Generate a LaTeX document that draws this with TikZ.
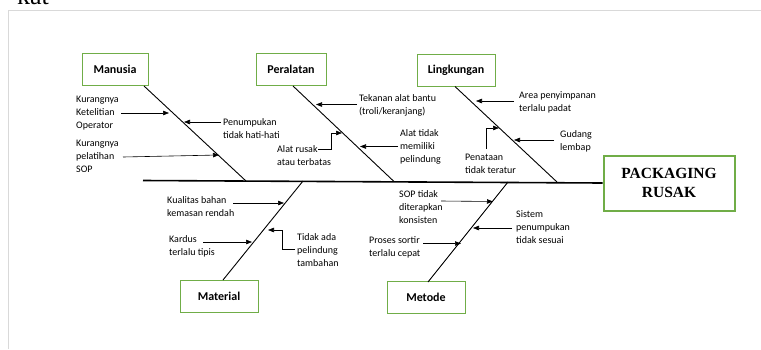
\documentclass[tikz,border=0pt]{standalone}
\usepackage{fontspec}
\setmainfont{Carlito}
\newfontfamily\headserif{Liberation Serif}
\usetikzlibrary{arrows.meta}
\definecolor{boxgreen}{HTML}{70AD47}
\definecolor{framegray}{HTML}{D9D9D9}
\tikzset{
  catbox/.style={draw=boxgreen, line width=1pt, minimum width=66pt, minimum height=32pt, font=\fontsize{12}{14}\selectfont\bfseries, inner sep=0pt},
  effectbox/.style={draw=boxgreen, line width=2pt, minimum width=131pt, minimum height=55pt, font=\headserif\fontsize{15.5}{19}\selectfont\bfseries, align=center, inner sep=0pt},
  cause/.style={font=\fontsize{10}{13}\selectfont, align=left, anchor=west, inner sep=0pt},
  bone/.style={line width=0.9pt},
  spine/.style={line width=1.6pt},
  causearrow/.style={line width=0.6pt, -{Triangle[length=6pt,width=4.5pt]}}
}
\begin{document}
\begin{tikzpicture}[x=1pt,y=-1pt]
\useasboundingbox (0,0) rectangle (761,349);
% page frame and cut heading
\draw[framegray, line width=1pt] (761,10.5) -- (8.5,10.5) -- (8.5,349);
\begin{scope}
\clip (0,0) rectangle (120,6);
\node[anchor=base west, inner sep=0pt, font=\headserif\fontsize{26}{30}\selectfont] (head) at (17,4) {kat};
\end{scope}

% boxes
\node[catbox, minimum width=66pt] (man) at (115,69.5) {Manusia};
\node[catbox, minimum width=70pt] (per) at (291,69.5) {Peralatan};
\node[catbox, minimum width=78pt] (lin) at (456,70.5) {Lingkungan};
\node[catbox, minimum width=78pt] (mat) at (219,296) {Material};
\node[catbox, minimum width=78pt] (met) at (426,297.5) {Metode};
\node[effectbox] (eff) at (669,183) {PACKAGING\\RUSAK};

% spine
\coordinate (spL) at (143,180.5);
\draw[spine] (spL) -- (eff.west);

% bone endpoints
\coordinate (manT) at (144,86);   \coordinate (manB) at (246,181);
\coordinate (perT) at (293,86);   \coordinate (perB) at (394,181.5);
\coordinate (linT) at (455,86.5); \coordinate (linB) at (557,182);
\coordinate (matT) at (303,181);  \coordinate (matB) at (223,280);
\coordinate (metT) at (508,182);  \coordinate (metB) at (428,282);
\draw[bone] (manT) -- (manB);
\draw[bone] (perT) -- (perB);
\draw[bone] (linT) -- (linB);
\draw[bone] (matT) -- (matB);
\draw[bone] (metT) -- (metB);

% Manusia causes
\node[cause] (c1) at (76,113) {Kurangnya\\Ketelitian\\Operator};
\node[cause] (c2) at (223,128.5) {Penumpukan\\tidak hati-hati};
\node[cause] (c3) at (76,156.5) {Kurangnya\\pelatihan\\SOP};
\coordinate (a1s) at (121,113); \coordinate (a1e) at (169,113);
\coordinate (a2s) at (221,122); \coordinate (a2e) at (184,122);
\coordinate (a3s) at (123,157); \coordinate (a3e) at (219,155);
\draw[causearrow] (a1s) -- (a1e);
\draw[causearrow] (a2s) -- (a2e);
\draw[causearrow] (a3s) -- (a3e);

% Peralatan causes
\node[cause] (c4) at (359,105.5) {Tekanan alat bantu\\(troli/keranjang)};
\node[cause] (c5) at (277,155.5) {Alat rusak\\atau terbatas};
\node[cause] (c6) at (400,147) {Alat tidak\\memiliki\\pelindung};
\coordinate (a4s) at (357,104.5); \coordinate (a4e) at (316,104.5);
\coordinate (a5s) at (318,149); \coordinate (a5k1) at (331,149); \coordinate (a5k2) at (331,133); \coordinate (a5e) at (342,133);
\coordinate (a6s) at (398,146.5); \coordinate (a6e) at (360,146.5);
\draw[causearrow] (a4s) -- (a4e);
\draw[causearrow] (a5s) -- (a5k1) -- (a5k2) -- (a5e);
\draw[causearrow] (a6s) -- (a6e);

% Lingkungan causes
\node[cause] (c7) at (519,102.5) {Area penyimpanan\\terlalu padat};
\node[cause] (c8) at (560,141.5) {Gudang\\lembap};
\node[cause] (c9) at (465,163.5) {Penataan\\tidak teratur};
\coordinate (a7s) at (514,101); \coordinate (a7e) at (476,101);
\coordinate (a8s) at (554,140); \coordinate (a8e) at (514,140);
\coordinate (a9s) at (486,149); \coordinate (a9k) at (486,128); \coordinate (a9e) at (499,128);
\draw[causearrow] (a7s) -- (a7e);
\draw[causearrow] (a8s) -- (a8e);
\draw[causearrow] (a9s) -- (a9k) -- (a9e);

% Material causes
\node[cause] (c10) at (167,206.5) {Kualitas bahan\\kemasan rendah};
\node[cause] (c11) at (169,246.5) {Kardus\\terlalu tipis};
\node[cause] (c12) at (297,250.5) {Tidak ada\\pelindung\\tambahan};
\coordinate (a10s) at (233,203); \coordinate (a10e) at (284,203);
\coordinate (a11s) at (203,242); \coordinate (a11e) at (252,242);
\coordinate (a12s) at (295,249); \coordinate (a12k1) at (282,249); \coordinate (a12k2) at (282,230); \coordinate (a12e) at (268,230);
\draw[causearrow] (a10s) -- (a10e);
\draw[causearrow] (a11s) -- (a11e);
\draw[causearrow] (a12s) -- (a12k1) -- (a12k2) -- (a12e);

% Metode causes
\node[cause] (c13) at (399,207) {SOP tidak\\diterapkan\\konsisten};
\node[cause] (c14) at (516,227.5) {Sistem\\penumpukan\\tidak sesuai};
\node[cause] (c15) at (369,247) {Proses sortir\\terlalu cepat};
\coordinate (a13s) at (441,201); \coordinate (a13e) at (493,201.5);
\coordinate (a14s) at (512,228); \coordinate (a14e) at (473,228);
\coordinate (a15s) at (423,243.5); \coordinate (a15e) at (461,243.5);
\draw[causearrow] (a13s) -- (a13e);
\draw[causearrow] (a14s) -- (a14e);
\draw[causearrow] (a15s) -- (a15e);
\end{tikzpicture}
\end{document}
